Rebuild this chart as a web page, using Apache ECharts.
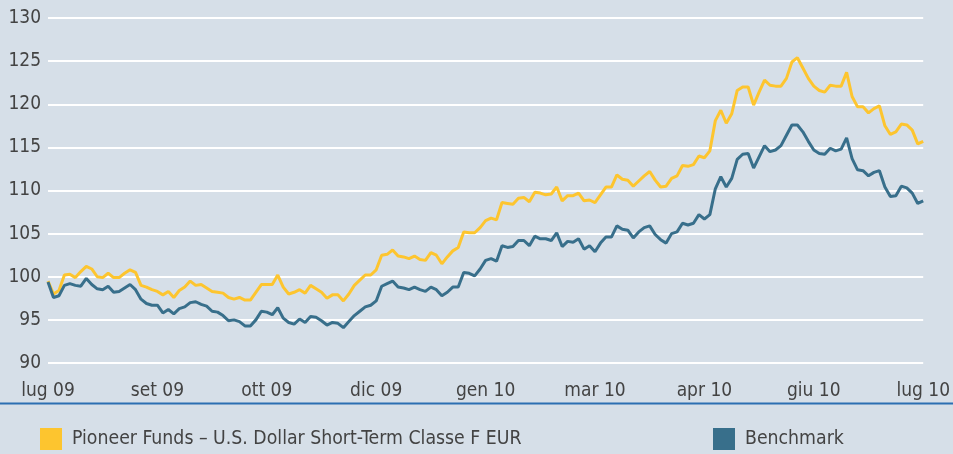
<!DOCTYPE html>
<html>
<head>
<meta charset="utf-8">
<script src="https://cdn.jsdelivr.net/npm/echarts@6/dist/echarts.min.js"></script>
<style>
html,body{margin:0;padding:0;background:#d6dfe8;}
#c{width:953px;height:454px;}
</style>
</head>
<body>
<div id="c"></div>
<script>
const tickLabels = ['lug 09','set 09','ott 09','dic 09','gen 10','mar 10','apr 10','giu 10','lug 10'];
const fundName = 'Pioneer Funds – U.S. Dollar Short-Term Classe F EUR';
const benchName = 'Benchmark';
const fund = [
99.5,98.0,98.4,100.2,100.3,99.9,100.6,101.2,100.9,100.0,
99.9,100.4,99.9,99.9,100.4,100.8,100.5,99.0,98.8,98.5,
98.3,97.9,98.3,97.6,98.4,98.8,99.5,99.0,99.1,98.7,
98.3,98.2,98.1,97.6,97.4,97.6,97.3,97.3,98.2,99.1,
99.1,99.1,100.2,98.8,98.0,98.2,98.5,98.1,99.0,98.6,
98.2,97.5,97.9,97.9,97.2,98.0,99.0,99.6,100.2,100.2,
100.8,102.5,102.6,103.1,102.4,102.3,102.1,102.4,102.0,101.9,
102.8,102.5,101.5,102.3,103.0,103.4,105.2,105.1,105.1,105.7,
106.5,106.8,106.6,108.6,108.5,108.4,109.1,109.2,108.7,109.8,
109.7,109.5,109.6,110.4,108.8,109.4,109.4,109.7,108.8,108.9,
108.6,109.5,110.4,110.4,111.8,111.3,111.2,110.5,111.1,111.7,
112.2,111.2,110.4,110.5,111.4,111.7,112.9,112.8,113.0,114.0,
113.8,114.6,118.1,119.3,117.8,118.9,121.6,122.0,122.0,119.9,
121.4,122.8,122.2,122.1,122.1,123.0,124.9,125.4,124.2,123.0,
122.1,121.6,121.4,122.2,122.1,122.1,123.7,120.9,119.7,119.7,
119.0,119.5,119.8,117.5,116.5,116.8,117.7,117.6,117.0,115.4,
115.7
];
const bench = [
99.4,97.6,97.8,99.0,99.2,99.0,98.9,99.8,99.1,98.6,
98.5,98.9,98.2,98.3,98.7,99.1,98.5,97.4,96.9,96.7,
96.7,95.8,96.2,95.7,96.3,96.5,97.0,97.1,96.8,96.6,
96.0,95.9,95.5,94.9,95.0,94.8,94.3,94.3,95.0,96.0,
95.9,95.6,96.4,95.2,94.7,94.5,95.1,94.7,95.4,95.3,
94.9,94.4,94.7,94.6,94.1,94.8,95.5,96.0,96.5,96.7,
97.2,98.9,99.2,99.5,98.8,98.7,98.5,98.8,98.5,98.3,
98.8,98.5,97.8,98.2,98.8,98.8,100.5,100.4,100.1,100.9,
101.9,102.1,101.8,103.6,103.4,103.5,104.2,104.2,103.6,104.7,
104.4,104.4,104.2,105.1,103.5,104.1,104.0,104.4,103.2,103.6,
102.9,103.9,104.6,104.6,105.9,105.5,105.4,104.5,105.2,105.7,
105.9,104.9,104.3,103.9,105.0,105.2,106.2,106.0,106.2,107.2,
106.7,107.2,110.2,111.6,110.4,111.4,113.6,114.2,114.3,112.6,
113.9,115.2,114.5,114.7,115.2,116.4,117.6,117.6,116.8,115.7,
114.7,114.3,114.2,114.9,114.6,114.8,116.1,113.7,112.4,112.3,
111.7,112.1,112.3,110.4,109.3,109.4,110.5,110.3,109.7,108.5,
108.8
];
const step = (fund.length - 1) / (tickLabels.length - 1);
const cats = fund.map((_, i) => String(i));

const FONT = '"DejaVu Sans Condensed", "Liberation Sans", sans-serif';
const FS = 19;
const TXT = '#434343';
const chart = echarts.init(document.getElementById('c'));
chart.setOption({
  backgroundColor: '#d6dfe8',
  animation: false,
  grid: {left: 48, right: 21, top: 18, bottom: 91, containLabel: false},
  xAxis: {
    type: 'category', data: cats, boundaryGap: false,
    axisLine: {show: false}, axisTick: {show: false},
    splitLine: {show: false},
    axisLabel: {
      interval: step - 1, margin: 19,
      color: TXT, fontFamily: FONT, fontSize: FS,
      formatter: (v, idx) => (idx % step === 0 ? tickLabels[idx / step] : '')
    }
  },
  yAxis: {
    type: 'value', min: 90, max: 130, interval: 5,
    axisLine: {show: false}, axisTick: {show: false},
    splitLine: {lineStyle: {color: '#ffffff', width: 2}},
    axisLabel: {margin: 7, color: TXT, fontFamily: FONT, fontSize: FS}
  },
  legend: [
    {left: 40, top: 428, icon: 'rect', itemWidth: 22, itemHeight: 22, itemGap: 10, padding: 0,
     data: [fundName], textStyle: {color: TXT, fontFamily: FONT, fontSize: 19.3, padding: [0, 0, 0, 5]}},
    {left: 713, top: 428, icon: 'rect', itemWidth: 22, itemHeight: 22, itemGap: 10, padding: 0,
     data: [benchName], textStyle: {color: TXT, fontFamily: FONT, fontSize: 19.3, padding: [0, 0, 0, 5]}}
  ],
  graphic: [
    {type: 'rect', shape: {x: 0, y: 402.5, width: 953, height: 2}, style: {fill: '#2b6fb2'}, silent: true}
  ],
  series: [
    {name: fundName, type: 'line', data: fund, symbol: 'none', z: 2,
     lineStyle: {color: '#fdc52f', width: 3}, itemStyle: {color: '#fdc52f'}},
    {name: benchName, type: 'line', data: bench, symbol: 'none', z: 3,
     lineStyle: {color: '#386f8b', width: 3}, itemStyle: {color: '#386f8b'}}
  ]
});
</script>
</body>
</html>
